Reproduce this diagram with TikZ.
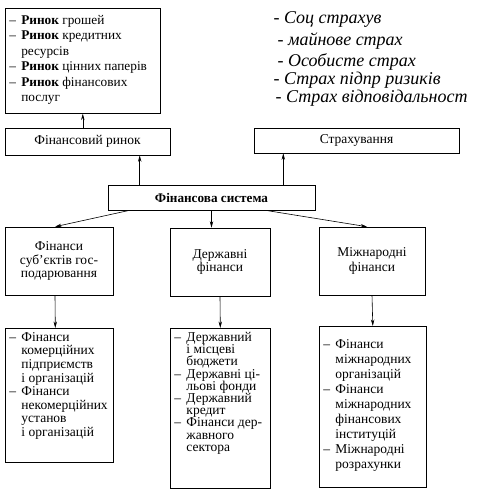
\documentclass[tikz,border=0pt]{standalone}
\usepackage{fontspec}
\setmainfont{Liberation Serif}
\newfontfamily\handfont{Liberation Serif}
\usetikzlibrary{arrows.meta, positioning}
\newcommand{\itm}{\makebox[0.9em][l]{–}}
\newcommand{\cnt}{\hspace*{0.9em}}
% list text: width, height, font size, leading, lines
\newcommand{\lst}[5]{\parbox[c][#2][t]{#1}{\fontsize{#3}{#4}\selectfont
  \lineskiplimit=-20pt\raggedright #5}}
\tikzset{
  box/.style={draw, line width=0.6pt, align=center, inner sep=0pt,
              font=\fontsize{13.5}{13.5}\selectfont},
  lbox/.style={draw, line width=0.6pt, inner sep=4pt, anchor=north west},
  arr/.style={-{Stealth[length=6.5pt, width=3.4pt]}, line width=0.6pt},
  note/.style={anchor=west, font=\handfont\itshape\fontsize{18}{18}\selectfont},
}

\begin{document}
\begin{tikzpicture}[x=1pt, y=-1pt]
  \useasboundingbox (0,0) rectangle (480,502);

  % top part
  \node[lbox] (mlist) at (5,8) {\lst{147pt}{97pt}{13.3}{15.5pt}{\vspace*{3pt}%
    \itm\textbf{Ринок} грошей\\
    \itm\textbf{Ринок} кредитних\\
    \cnt ресурсів\\
    \itm\textbf{Ринок} цінних паперів\\
    \itm\textbf{Ринок} фінансових\\
    \cnt послуг}};
  \node[box, minimum width=165pt, minimum height=27pt] (market) at (87.5,141.5) {Фінансовий ринок};
  \node[box, minimum width=205pt, minimum height=25pt] (insur) at (356.5,140.5) {Страхування};

  \node[note] (n1) at (270,19) {- Соц страхув};
  \node[note] (n2) at (274,41) {- майнове страх};
  \node[note] (n3) at (274,62) {- Особисте страх};
  \node[note] (n4) at (270,80) {- Страх підпр ризиків};
  \node[note] (n5) at (272,98) {- Страх відповідальност};

  \node[box, minimum width=207pt, minimum height=25pt, font=\bfseries\fontsize{13.2}{13.5}\selectfont] (fsys) at (211.5,197.5) {Фінансова система};

  % second row
  \node[box, minimum width=108pt, minimum height=68pt] (ent) at (59,261) {Фінанси\\суб’єктів гос-\\подарювання};
  \node[box, minimum width=100pt, minimum height=68pt] (gov) at (220,262) {Державні\\фінанси};
  \node[box, minimum width=106pt, minimum height=68pt] (intl) at (372,261) {Міжнародні\\[1.5pt]фінанси};

  % lists
  \node[lbox] (entlist) at (5,328) {\lst{100pt}{126pt}{13.5}{13.6pt}{%
    \itm Фінанси\\
    \cnt комерційних\\
    \cnt підприємств\\
    \cnt і організацій\\
    \itm Фінанси\\
    \cnt некомерційних\\
    \cnt установ\\
    \cnt і організацій}};
  \node[lbox] (govlist) at (170,328) {\lst{92pt}{152pt}{13.5}{12.2pt}{%
    \itm Державний\\
    \cnt і місцеві\\
    \cnt бюджети\\
    \itm Державні ці-\\
    \cnt льові фонди\\
    \itm Державний\\
    \cnt кредит\\
    \itm Фінанси дер-\\
    \cnt жавного\\
    \cnt сектора}};
  \node[lbox] (intlist) at (319,326) {\lst{99pt}{153pt}{13.5}{15pt}{\vspace*{9pt}%
    \itm Фінанси\\
    \cnt міжнародних\\
    \cnt організацій\\
    \itm Фінанси\\
    \cnt міжнародних\\
    \cnt фінансових\\
    \cnt інституцій\\
    \itm Міжнародні\\
    \cnt розрахунки}};

  % connectors
  \draw[arr] (market.north -| mlist) -- (mlist.south);
  \draw[arr] ([xshift=32pt]fsys.north west) -- ([xshift=32pt]fsys.north west |- market.south);
  \draw[arr] ([xshift=-32pt]fsys.north east) -- ([xshift=-32pt]fsys.north east |- insur.south);
  \draw[arr] ([xshift=22pt]fsys.south west) -- ([xshift=-4pt]ent.north);
  \draw[arr] (fsys.south) -- (fsys.south |- gov.north);
  \draw[arr] ([xshift=-50pt]fsys.south east) -- ([xshift=-5pt]intl.north);
  \draw[arr] ([xshift=-4pt]ent.south) -- ([xshift=-4pt]entlist.north);
  \draw[arr] (gov.south) -- (govlist.north);
  \draw[arr] (intl.south) -- (intlist.north);
\end{tikzpicture}
\end{document}
